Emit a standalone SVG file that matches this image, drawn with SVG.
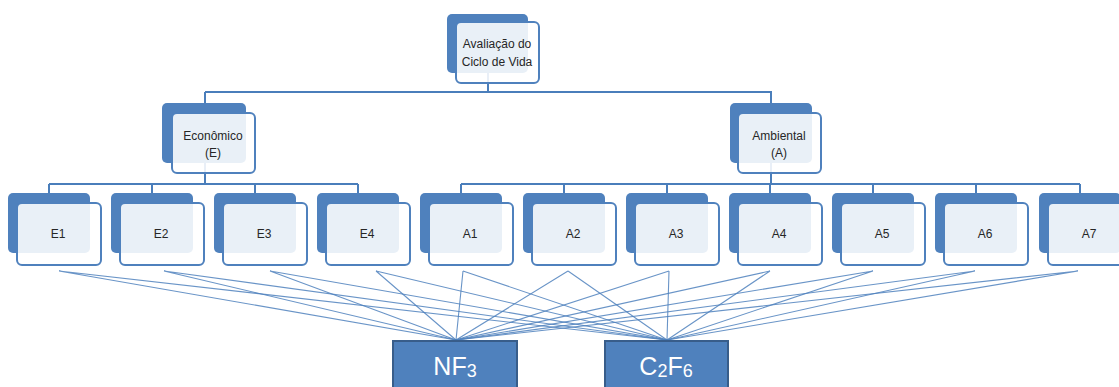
<svg xmlns="http://www.w3.org/2000/svg" width="1119" height="387" viewBox="0 0 1119 387">
<style>
.tree{fill:none;stroke:#4a7ebb;stroke-width:2}
.fan{fill:none;stroke:#4f81bd;stroke-width:1.1;stroke-opacity:0.85}
.back{fill:#4f81bd}
.front{fill:#ffffff;fill-opacity:0.88;stroke:#4f81bd;stroke-width:2}
.lbl{font-family:"Liberation Sans",Arial,sans-serif;font-size:12px;fill:#262626;text-anchor:middle}
.box{fill:#4f81bd;stroke:#385d8a;stroke-width:2}
.big{font-family:"Liberation Sans",Arial,sans-serif;font-size:25px;fill:#ffffff;text-anchor:middle}
</style>
<rect width="1119" height="387" fill="#ffffff"/>
<g id="connectors">
<path class="tree" d="M488 73V92M205 92H772M205 92V103M771 92V103"/>
<path class="tree" d="M205 163V184M49 184H358M49 184V193M152 184V193M255 184V193M358 184V193"/>
<path class="tree" d="M771 163V184M461 184H1080M461 184V193M564 184V193M667 184V193M770 184V193M873 184V193M976 184V193M1080 184V193"/>
<g class="fan">
<path d="M59 271L456 340M59 271L667 340"/>
<path d="M164 271L456 340M164 271L667 340"/>
<path d="M270 271L456 340M270 271L667 340"/>
<path d="M376 271L456 340M376 271L667 340"/>
<path d="M463 271L456 340M463 271L667 340"/>
<path d="M568 271L456 340M568 271L667 340"/>
<path d="M669 271L456 340M669 271L667 340"/>
<path d="M770 271L456 340M770 271L667 340"/>
<path d="M873 271L456 340M873 271L667 340"/>
<path d="M975 271L456 340M975 271L667 340"/>
<path d="M1078 271L456 340M1078 271L667 340"/>
</g>
</g>
<g id="lca">
<rect class="back" x="447" y="14" width="81" height="59" rx="5"/>
<rect class="front" x="456" y="22" width="83" height="61" rx="5"/>
<text class="lbl" x="497" y="48">Avaliação do</text>
<text class="lbl" x="497" y="66">Ciclo de Vida</text>
</g>
<g id="economico">
<rect class="back" x="162" y="103" width="84" height="60" rx="5"/>
<rect class="front" x="172" y="113" width="83" height="60" rx="5"/>
<text class="lbl" x="213" y="140">Econômico</text>
<text class="lbl" x="213" y="157">(E)</text>
</g>
<g id="ambiental">
<rect class="back" x="730" y="103" width="82" height="60" rx="5"/>
<rect class="front" x="738" y="113" width="83" height="60" rx="5"/>
<text class="lbl" x="779" y="140">Ambiental</text>
<text class="lbl" x="779" y="157">(A)</text>
</g>
<g id="E1"><rect class="back" x="8" y="193" width="82" height="60" rx="5"/><rect class="front" x="17" y="203" width="84" height="62" rx="5"/><text class="lbl" x="58" y="238">E1</text></g>
<g id="E2"><rect class="back" x="111" y="193" width="82" height="60" rx="5"/><rect class="front" x="120" y="203" width="84" height="62" rx="5"/><text class="lbl" x="161" y="238">E2</text></g>
<g id="E3"><rect class="back" x="214" y="193" width="82" height="60" rx="5"/><rect class="front" x="223" y="203" width="84" height="62" rx="5"/><text class="lbl" x="264" y="238">E3</text></g>
<g id="E4"><rect class="back" x="317" y="193" width="82" height="60" rx="5"/><rect class="front" x="326" y="203" width="84" height="62" rx="5"/><text class="lbl" x="367" y="238">E4</text></g>
<g id="A1"><rect class="back" x="420" y="193" width="82" height="60" rx="5"/><rect class="front" x="429" y="203" width="84" height="62" rx="5"/><text class="lbl" x="470" y="238">A1</text></g>
<g id="A2"><rect class="back" x="523" y="193" width="82" height="60" rx="5"/><rect class="front" x="532" y="203" width="84" height="62" rx="5"/><text class="lbl" x="573" y="238">A2</text></g>
<g id="A3"><rect class="back" x="626" y="193" width="82" height="60" rx="5"/><rect class="front" x="635" y="203" width="84" height="62" rx="5"/><text class="lbl" x="676" y="238">A3</text></g>
<g id="A4"><rect class="back" x="729" y="193" width="82" height="60" rx="5"/><rect class="front" x="738" y="203" width="84" height="62" rx="5"/><text class="lbl" x="779" y="238">A4</text></g>
<g id="A5"><rect class="back" x="832" y="193" width="82" height="60" rx="5"/><rect class="front" x="841" y="203" width="84" height="62" rx="5"/><text class="lbl" x="882" y="238">A5</text></g>
<g id="A6"><rect class="back" x="935" y="193" width="82" height="60" rx="5"/><rect class="front" x="944" y="203" width="84" height="62" rx="5"/><text class="lbl" x="985" y="238">A6</text></g>
<g id="A7"><rect class="back" x="1039" y="193" width="82" height="60" rx="5"/><rect class="front" x="1048" y="203" width="84" height="62" rx="5"/><text class="lbl" x="1089" y="238">A7</text></g>
<g id="NF3">
<rect class="box" x="393" y="341" width="124" height="52"/>
<text class="big" x="455" y="375">NF<tspan font-size="18" dy="2">3</tspan></text>
</g>
<g id="C2F6">
<rect class="box" x="605" y="341" width="123" height="52"/>
<text class="big" x="666" y="375">C<tspan font-size="18" dy="2">2</tspan><tspan dy="-2">F</tspan><tspan font-size="18" dy="2">6</tspan></text>
</g>
</svg>
